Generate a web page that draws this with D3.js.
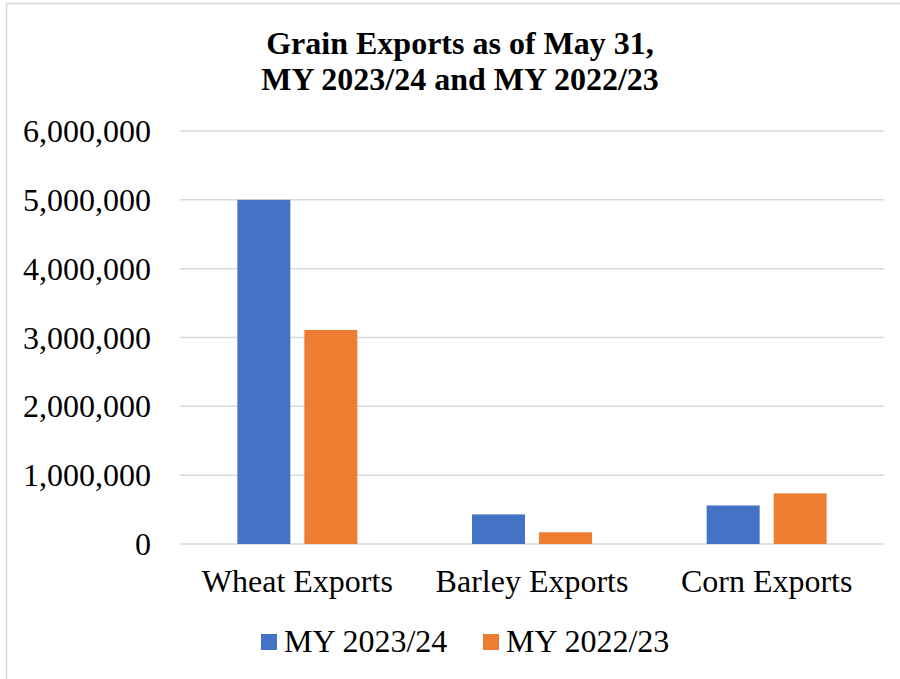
<!DOCTYPE html>
<html>
<head>
<meta charset="utf-8">
<script src="https://cdn.jsdelivr.net/npm/d3@7"></script>
<style>
  html, body { margin: 0; padding: 0; background: #fff; }
  svg { display: block; font-family: "Liberation Serif", "Times New Roman", serif; }
</style>
</head>
<body>
<div id="chart"></div>
<script>
// Grain exports (tonnes) by crop, two marketing years
const categories = ["Wheat Exports", "Barley Exports", "Corn Exports"];
const seriesNames = ["MY 2023/24", "MY 2022/23"];
const my2023_24 = [5000000, 430000, 560000];
const my2022_23 = [3110000, 170000, 735000];
const yTicks = [0, 1000000, 2000000, 3000000, 4000000, 5000000, 6000000];
const colors = ["#4472C4", "#ED7D31"];
const titleLines = ["Grain Exports as of May 31,", "MY 2023/24 and MY 2022/23"];

const W = 900, H = 679;
const svg = d3.select("#chart").append("svg").attr("width", W).attr("height", H);

// chart area frame
svg.append("rect")
  .attr("x", 6.5).attr("y", 3.5)
  .attr("width", W + 20).attr("height", H + 20)
  .attr("fill", "#fff").attr("stroke", "#d9d9d9").attr("stroke-width", 1.5);

const plot = { left: 180, right: 884, top: 131, bottom: 544 };

const x = d3.scaleBand().domain(categories).range([plot.left, plot.right]);
const xs = d3.scaleBand().domain(seriesNames).range([0, x.bandwidth()])
  .paddingInner(0.209).paddingOuter(0.856);
const y = d3.scaleLinear().domain([0, 6000000]).range([plot.bottom, plot.top]);

// title
svg.append("text")
  .attr("x", 460).attr("y", 54)
  .attr("text-anchor", "middle")
  .attr("font-weight", "bold").attr("font-size", 32)
  .selectAll("tspan").data(titleLines).join("tspan")
  .attr("x", 460).attr("dy", (d, i) => i === 0 ? 0 : 36)
  .text(d => d);

// gridlines
svg.append("g").selectAll("line").data(yTicks).join("line")
  .attr("x1", plot.left).attr("x2", plot.right)
  .attr("y1", d => y(d)).attr("y2", d => y(d))
  .attr("stroke", "#d9d9d9").attr("stroke-width", 1.5);

// y axis labels
const yAxis = d3.axisLeft(y).tickValues(yTicks).tickSize(0).tickPadding(0)
  .tickFormat(d3.format(",.0f"));
const gy = svg.append("g").attr("transform", "translate(151,0)").call(yAxis);
gy.select(".domain").remove();
gy.selectAll("text")
  .attr("font-family", "Liberation Serif, Times New Roman, serif")
  .attr("font-size", 32).attr("fill", "#000").attr("dy", "0.33em");

// bars
const data = categories.map((c, i) => ({ cat: c, vals: [my2023_24[i], my2022_23[i]] }));
const groups = svg.append("g").selectAll("g").data(data).join("g")
  .attr("transform", d => `translate(${x(d.cat)},0)`);
groups.selectAll("rect")
  .data(d => d.vals.map((v, j) => ({ name: seriesNames[j], v, j })))
  .join("rect")
  .attr("x", d => xs(d.name))
  .attr("width", xs.bandwidth())
  .attr("y", d => y(d.v))
  .attr("height", d => y(0) - y(d.v))
  .attr("fill", d => colors[d.j]);

// x axis labels
const xAxis = d3.axisBottom(x).tickSize(0).tickPadding(0);
const gx = svg.append("g").attr("transform", `translate(0,${plot.bottom})`).call(xAxis);
gx.select(".domain").remove();
gx.selectAll("text")
  .attr("font-family", "Liberation Serif, Times New Roman, serif")
  .attr("font-size", 32).attr("fill", "#000").attr("dy", 0).attr("y", 48);

// legend
const legendX = [261, 483];
const legend = svg.append("g").selectAll("g").data(seriesNames).join("g")
  .attr("transform", (d, i) => `translate(${legendX[i]},634)`);
legend.append("rect").attr("width", 16).attr("height", 16)
  .attr("fill", (d, i) => colors[i]);
legend.append("text").attr("x", 23).attr("y", 18)
  .attr("font-size", 32).attr("fill", "#000").text(d => d);
</script>
</body>
</html>
